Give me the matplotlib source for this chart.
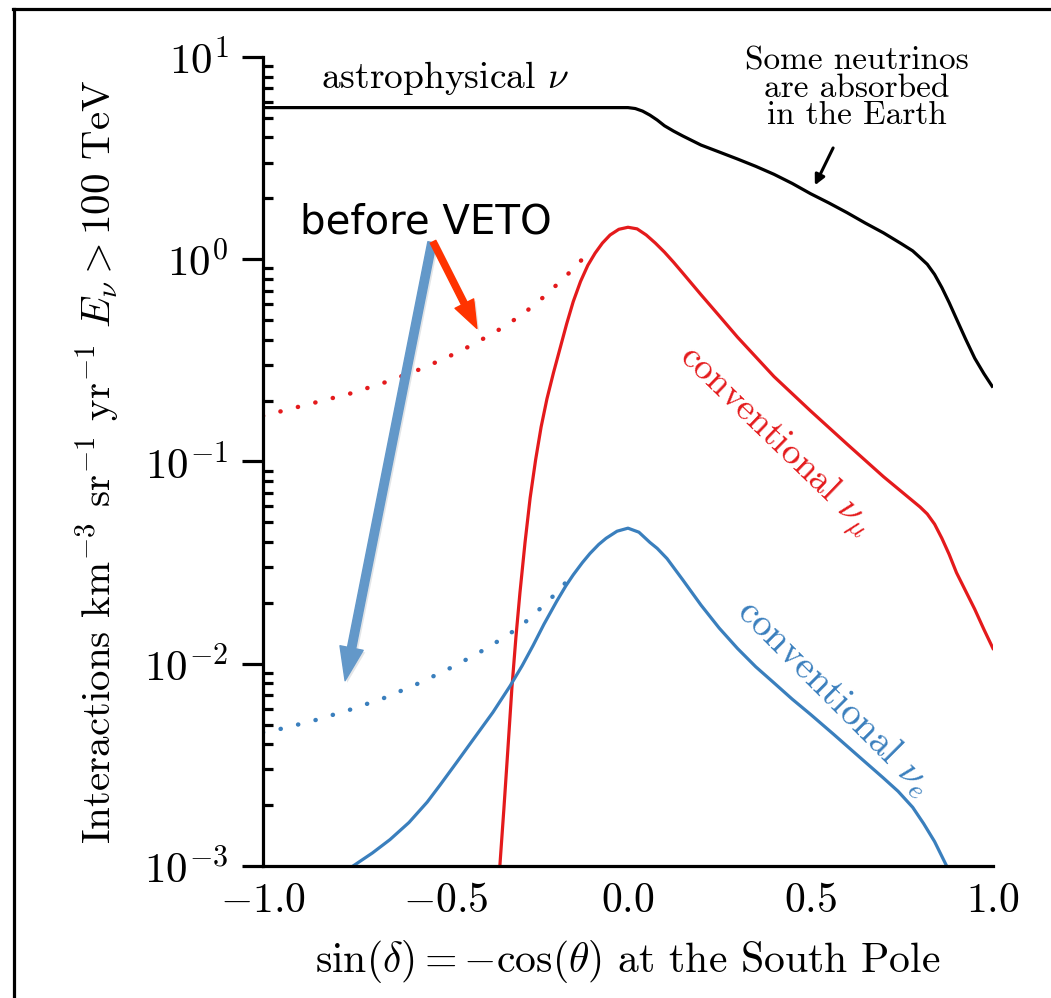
import numpy as np
import matplotlib
matplotlib.use("Agg")
import matplotlib.pyplot as plt
import matplotlib.ticker as mticker
import matplotlib.patheffects as pe
from matplotlib.lines import Line2D

plt.rcParams["font.family"] = "serif"
plt.rcParams["font.serif"] = ["cmr10"]
plt.rcParams["mathtext.fontset"] = "cm"
plt.rcParams["axes.formatter.use_mathtext"] = True

RED = "#e41a1c"
BLUE = "#3a7fbd"

##############################################################################
# Data
##############################################################################

# astrophysical nu
astro_x = [-1.0, -0.5, 0.0, 0.02, 0.04, 0.06, 0.08, 0.1, 0.125, 0.15, 0.2,
           0.25, 0.3, 0.35, 0.4, 0.45, 0.5, 0.55, 0.6, 0.65, 0.7, 0.75, 0.78,
           0.8, 0.82, 0.84, 0.86, 0.88, 0.9, 0.925, 0.95, 0.975, 1.0]
astro_y = [5.62, 5.62, 5.62, 5.56, 5.40, 5.16, 4.88, 4.57, 4.30, 4.07, 3.67,
           3.39, 3.13, 2.88, 2.63, 2.37, 2.11, 1.90, 1.70, 1.51, 1.35, 1.19,
           1.10, 1.02, 0.944, 0.841, 0.724, 0.610, 0.507, 0.403, 0.324, 0.272,
           0.232]

# conventional nu_mu (after veto)
numu_x = [-0.351, -0.340, -0.330, -0.318, -0.307, -0.296, -0.282, -0.268,
          -0.253, -0.238, -0.222, -0.204, -0.186, -0.168, -0.150, -0.130,
          -0.110, -0.090, -0.070, -0.049, -0.025, 0.0, 0.025, 0.05, 0.075,
          0.1, 0.125, 0.15, 0.2, 0.25, 0.3, 0.4, 0.5, 0.6, 0.7, 0.76, 0.8,
          0.82, 0.84, 0.86, 0.88, 0.9, 0.925, 0.95, 0.975, 1.0]
numu_y = [0.001, 0.00191, 0.00355, 0.00759, 0.0135, 0.0224, 0.0398, 0.0661,
          0.102, 0.148, 0.204, 0.275, 0.363, 0.479, 0.617, 0.776, 0.933,
          1.072, 1.202, 1.318, 1.406, 1.439, 1.413, 1.318, 1.202, 1.084,
          0.966, 0.855, 0.668, 0.525, 0.412, 0.263, 0.178, 0.122, 0.0841,
          0.0684, 0.0596, 0.0550, 0.0490, 0.0417, 0.0347, 0.0282, 0.0229,
          0.0186, 0.0148, 0.0119]

# conventional nu_mu before veto
numu_pre_x = [-1.0, -0.86, -0.76, -0.66, -0.565, -0.49, -0.424, -0.35,
              -0.288, -0.23, -0.173, -0.135, -0.104]
numu_pre_y = [0.168, 0.195, 0.217, 0.248, 0.288, 0.331, 0.379, 0.452, 0.535,
              0.653, 0.815, 0.955, 1.109]

# conventional nu_e (after veto)
nue_x = [-0.753, -0.70, -0.652, -0.60, -0.55, -0.515, -0.47, -0.424, -0.37,
         -0.323, -0.29, -0.26, -0.23, -0.195, -0.17, -0.15, -0.125, -0.104,
         -0.08, -0.06, -0.03, 0.0, 0.03, 0.06, 0.08, 0.107, 0.15, 0.2, 0.25,
         0.3, 0.35, 0.4, 0.45, 0.5, 0.562, 0.63, 0.699, 0.74, 0.78, 0.81,
         0.84, 0.873, 0.88]
nue_y = [0.001, 0.00116, 0.00135, 0.00164, 0.00207, 0.00251, 0.00324,
         0.00422, 0.00575, 0.00776, 0.00977, 0.0123, 0.0157, 0.0204, 0.0243,
         0.0275, 0.0316, 0.0351, 0.0389, 0.0417, 0.0452, 0.0468, 0.0447,
         0.0398, 0.0372, 0.0331, 0.0260, 0.0195, 0.0150, 0.0119, 0.00966,
         0.00804, 0.00668, 0.00562, 0.0045, 0.00351, 0.00273, 0.00234,
         0.00195, 0.00162, 0.00132, 0.001, 0.00093]

# conventional nu_e before veto
nue_pre_x = [-1.0, -0.962, -0.863, -0.762, -0.666, -0.570, -0.474, -0.384,
             -0.296, -0.219, -0.150]
nue_pre_y = [0.00457, 0.00471, 0.00522, 0.00592, 0.00679, 0.00805, 0.00977,
             0.0120, 0.0152, 0.0203, 0.0276]

x_ticks = [-1.0, -0.5, 0.0, 0.5, 1.0]

##############################################################################
# Figure
##############################################################################

fig = plt.figure(figsize=(10.51, 9.98), dpi=100)
ax = fig.add_axes([0.2502, 0.1323, 0.6946, 0.8106])

lw = 2.3
dots = (0, (0.05, 4.0))
ax.plot(astro_x, astro_y, color="black", lw=lw, solid_capstyle="butt")
ax.plot(numu_x, numu_y, color=RED, lw=lw)
ax.plot(nue_x, nue_y, color=BLUE, lw=lw)
ax.plot(numu_pre_x, numu_pre_y, color=RED, lw=3.2, linestyle=dots,
        dash_capstyle="round")
ax.plot(nue_pre_x, nue_pre_y, color=BLUE, lw=3.2, linestyle=dots,
        dash_capstyle="round")

ax.set_yscale("log")
ax.set_xlim(-1.0, 1.0)
ax.set_ylim(1e-3, 1e1)
ax.set_xticks(x_ticks)
ax.xaxis.set_major_formatter(mticker.FuncFormatter(lambda v, p: f"${v:.1f}$"))
ax.yaxis.set_major_locator(mticker.LogLocator(base=10, numticks=10))
ax.yaxis.set_minor_locator(mticker.LogLocator(base=10, subs=np.arange(2, 10), numticks=10))
ax.yaxis.set_minor_formatter(mticker.NullFormatter())

for side in ["top", "right"]:
    ax.spines[side].set_visible(False)
for side in ["left", "bottom"]:
    ax.spines[side].set_linewidth(2.3)

ax.tick_params(axis="x", length=0, labelsize=30, pad=12)
ax.tick_params(axis="y", which="major", direction="out", length=15, width=2.3,
               labelsize=31, pad=10)
ax.tick_params(axis="y", which="minor", direction="in", length=7, width=2.3)

ax.set_xlabel(r"$\sin(\delta) = -\cos(\theta)$ at the South Pole", fontsize=30,
              labelpad=13)
ax.set_ylabel(r"Interactions km$^{-3}$ sr$^{-1}$ yr$^{-1}$ $E_\nu > 100$ TeV",
              fontsize=29.5, labelpad=16)

# curve labels
ax.text(-0.5, 7.9, r"astrophysical $\nu$", fontsize=27, ha="center", va="center")
ax.text(0.627, 7.0, "Some neutrinos\nare absorbed\nin the Earth", fontsize=24,
        ha="center", va="center", linespacing=0.92)
ax.annotate("", xy=(0.512, 2.32), xytext=(0.562, 3.55),
            arrowprops=dict(arrowstyle="-|>,head_length=0.6,head_width=0.3",
                            lw=2.2, color="black", shrinkA=0, shrinkB=0))
ax.text(0.403, 0.127, r"conventional $\nu_\mu$", fontsize=27, color=RED,
        rotation=-44, rotation_mode="anchor", ha="center", va="center")
ax.text(0.567, 0.0068, r"conventional $\nu_e$", fontsize=28, color=BLUE,
        rotation=-45, rotation_mode="anchor", ha="center", va="center")

# overlay annotation
ax.text(-0.553, 1.52, "before VETO", fontsize=29, family="DejaVu Sans",
        ha="center", va="center", color="black")
shadow = [pe.SimplePatchShadow(offset=(1.5, -1.5), alpha=0.12), pe.Normal()]
ax.annotate("", xy=(-0.775, 0.00824), xytext=(-0.537, 1.21),
            arrowprops=dict(arrowstyle="simple,head_length=2.4,head_width=1.7,tail_width=0.6",
                            mutation_scale=10, color="#6398c9", shrinkA=0, shrinkB=0,
                            path_effects=shadow))
ax.annotate("", xy=(-0.414, 0.455), xytext=(-0.534, 1.22),
            arrowprops=dict(arrowstyle="simple,head_length=2.0,head_width=1.5,tail_width=0.45",
                            mutation_scale=10, color="#ff3300", shrinkA=0, shrinkB=0,
                            path_effects=shadow))

# screenshot frame (left and top edges)
fig.add_artist(Line2D([0.0137, 0.0137], [0.0, 0.9910], transform=fig.transFigure,
                      color="black", lw=2.3))
fig.add_artist(Line2D([0.0125, 1.0], [0.9910, 0.9910], transform=fig.transFigure,
                      color="black", lw=2.3))

fig.savefig("out.png", dpi=100)
